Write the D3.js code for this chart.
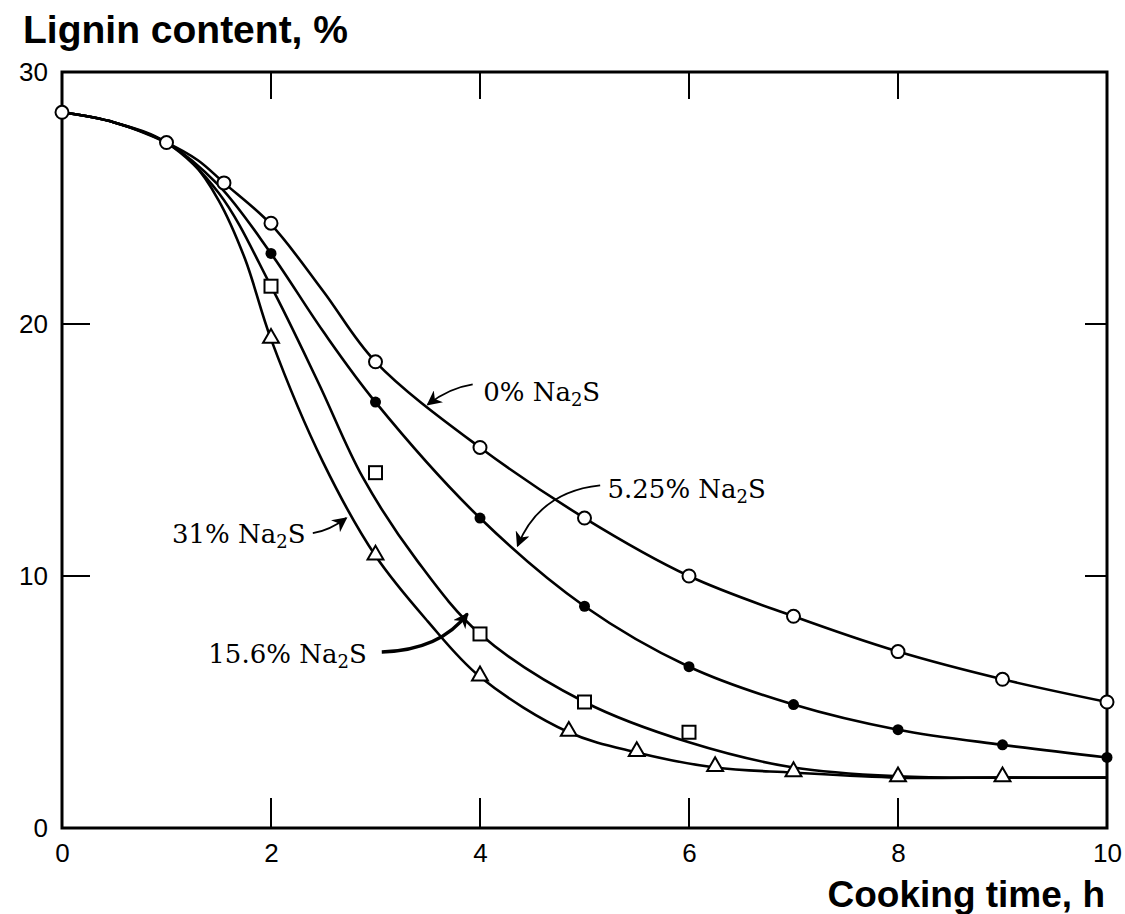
<!DOCTYPE html>
<html>
<head>
<meta charset="utf-8">
<script src="https://cdn.jsdelivr.net/npm/d3@7"></script>
<style>
  body { margin: 0; background: #fff; }
  svg { display: block; }
</style>
</head>
<body>
<script>
// measured points (markers)
var hours0 = [0, 1, 1.55, 2, 3, 4, 5, 6, 7, 8, 9, 10];
var lignin0 = [28.4, 27.2, 25.6, 24.0, 18.5, 15.1, 12.3, 10.0, 8.4, 7.0, 5.9, 5.0];
var hours525 = [2, 3, 4, 5, 6, 7, 8, 9, 10];
var lignin525 = [22.8, 16.9, 12.3, 8.8, 6.4, 4.9, 3.9, 3.3, 2.8];
var hours156 = [2, 3, 4, 5, 6];
var lignin156 = [21.5, 14.1, 7.7, 5.0, 3.8];
var hours31 = [2, 3, 4, 4.85, 5.5, 6.25, 7, 8, 9];
var lignin31 = [19.4, 10.8, 6.0, 3.8, 3.0, 2.4, 2.2, 2.0, 2.0];

// fitted curves as drawn in the figure
var curveT0 = [0, 0.5, 1, 1.3, 1.55, 2, 2.5, 3, 4, 5, 6, 7, 8, 9, 10];
var curveV0 = [28.4, 28.0, 27.2, 26.5, 25.6, 23.95, 21.3, 18.5, 15.1, 12.3, 10.0, 8.4, 7.0, 5.9, 5.0];
var curveT525 = [0, 0.5, 1, 1.5, 2, 2.5, 3, 4, 5, 6, 7, 8, 9, 10];
var curveV525 = [28.4, 28.0, 27.2, 25.5, 22.8, 19.7, 16.9, 12.3, 8.8, 6.4, 4.9, 3.9, 3.3, 2.8];
var curveT156 = [0, 0.5, 1, 1.5, 2, 2.45, 2.88, 3.4, 4, 5, 6, 7, 8, 9, 10];
var curveV156 = [28.4, 28.0, 27.2, 25.2, 21.5, 17.7, 13.9, 10.6, 7.7, 5.0, 3.4, 2.4, 2.05, 2.0, 2.0];
var curveT31 = [0, 0.5, 1, 1.25, 1.5, 1.75, 2, 2.5, 3, 3.5, 4, 4.85, 5.5, 6.25, 7, 8, 9, 10];
var curveV31 = [28.4, 28.0, 27.2, 26.4, 24.9, 22.6, 19.4, 14.5, 10.8, 8.2, 6.0, 3.8, 3.0, 2.4, 2.2, 2.0, 2.0, 2.0];

var xTicks = [0, 2, 4, 6, 8, 10];
var yTicks = [0, 10, 20, 30];
var innerTicksX = [2, 4, 6, 8];
var innerTicksY = [10, 20];

// labels: [t, value, anchor]; arrows: [from, ctrl, tip] in data units
var labelNames = ["0%", "5.25%", "31%", "15.6%"];
var labelPos = [[4.03, 16.95, "start"], [5.22, 13.1, "start"], [2.33, 11.3, "end"], [1.40, 6.55, "start"]];
var arrowPts = [
  [[3.93, 17.6], [3.70, 17.45], [3.50, 16.8]],
  [[5.15, 13.6], [4.57, 13.35], [4.36, 11.2]],
  [[2.40, 11.7], [2.56, 11.8], [2.72, 12.3]],
  [[3.06, 6.98], [3.62, 7.06], [3.88, 8.5]]
];
var arrowWidth = [1.8, 1.8, 1.8, 3.5];

var width = 1125, height = 914;
var svg = d3.select("body").append("svg")
    .attr("width", width)
    .attr("height", height);

svg.append("rect").attr("width", width).attr("height", height).attr("fill", "#fff");

var x = d3.scaleLinear().domain([0, 10]).range([62, 1107]);
var y = d3.scaleLinear().domain([0, 30]).range([828, 72]);

// frame
svg.append("rect")
    .attr("x", x(0)).attr("y", y(30))
    .attr("width", x(10) - x(0)).attr("height", y(0) - y(30))
    .attr("fill", "none").attr("stroke", "#000").attr("stroke-width", 3);

// inward ticks
innerTicksX.forEach(function(t){
    svg.append("line").attr("x1", x(t)).attr("x2", x(t))
        .attr("y1", y(0)).attr("y2", y(0) - 30)
        .attr("stroke", "#000").attr("stroke-width", 2);
    svg.append("line").attr("x1", x(t)).attr("x2", x(t))
        .attr("y1", y(30)).attr("y2", y(30) + 27)
        .attr("stroke", "#000").attr("stroke-width", 2);
});
innerTicksY.forEach(function(v){
    svg.append("line").attr("x1", x(0)).attr("x2", x(0) + 28)
        .attr("y1", y(v)).attr("y2", y(v))
        .attr("stroke", "#000").attr("stroke-width", 2);
    svg.append("line").attr("x1", x(10)).attr("x2", x(10) - 22)
        .attr("y1", y(v)).attr("y2", y(v))
        .attr("stroke", "#000").attr("stroke-width", 2);
});

// tick labels through axes
var xAxis = svg.append("g")
    .attr("transform", "translate(0," + y(0) + ")")
    .call(d3.axisBottom(x).tickValues(xTicks).tickSize(0).tickPadding(16).tickFormat(d3.format("d")));
var yAxis = svg.append("g")
    .attr("transform", "translate(" + x(0) + ",0)")
    .call(d3.axisLeft(y).tickValues(yTicks).tickSize(0).tickPadding(14).tickFormat(d3.format("d")));
[xAxis, yAxis].forEach(function(g){
    g.select(".domain").remove();
    g.selectAll("text")
        .attr("font-family", "Liberation Sans, Arial, sans-serif")
        .attr("font-size", 26)
        .attr("fill", "#000");
});

// axis titles
svg.append("text")
    .attr("x", 23).attr("y", 43)
    .attr("font-family", "Liberation Sans, Arial, sans-serif")
    .attr("font-weight", "bold")
    .attr("font-size", 39)
    .text("Lignin content, %");
svg.append("text")
    .attr("x", 1105).attr("y", 907)
    .attr("text-anchor", "end")
    .attr("font-family", "Liberation Sans, Arial, sans-serif")
    .attr("font-weight", "bold")
    .attr("font-size", 37)
    .text("Cooking time, h");

// curves
var line = d3.line()
    .x(function(d){ return x(d[0]); })
    .y(function(d){ return y(d[1]); })
    .curve(d3.curveCatmullRom.alpha(0.5));

[[curveT0, curveV0], [curveT525, curveV525], [curveT156, curveV156], [curveT31, curveV31]].forEach(function(c){
    svg.append("path")
        .datum(d3.zip(c[0], c[1]))
        .attr("d", line)
        .attr("fill", "none")
        .attr("stroke", "#000")
        .attr("stroke-width", 2.6);
});

// markers
svg.selectAll(".m0").data(d3.zip(hours0, lignin0)).enter().append("circle")
    .attr("cx", function(d){ return x(d[0]); })
    .attr("cy", function(d){ return y(d[1]); })
    .attr("r", 6.5)
    .attr("fill", "#fff").attr("stroke", "#000").attr("stroke-width", 2);

svg.selectAll(".m525").data(d3.zip(hours525, lignin525)).enter().append("circle")
    .attr("cx", function(d){ return x(d[0]); })
    .attr("cy", function(d){ return y(d[1]); })
    .attr("r", 5.5)
    .attr("fill", "#000");

svg.selectAll(".m156").data(d3.zip(hours156, lignin156)).enter().append("rect")
    .attr("x", function(d){ return x(d[0]) - 6.5; })
    .attr("y", function(d){ return y(d[1]) - 6.5; })
    .attr("width", 13).attr("height", 13)
    .attr("fill", "#fff").attr("stroke", "#000").attr("stroke-width", 2);

var tri = d3.symbol().type(d3.symbolTriangle).size(110);
svg.selectAll(".m31").data(d3.zip(hours31, lignin31)).enter().append("path")
    .attr("d", tri)
    .attr("transform", function(d){ return "translate(" + x(d[0]) + "," + (y(d[1]) - 1) + ")"; })
    .attr("fill", "#fff").attr("stroke", "#000").attr("stroke-width", 2);

// annotations
svg.append("defs").append("marker")
    .attr("id", "head")
    .attr("viewBox", "0 0 10 10")
    .attr("refX", 9).attr("refY", 5)
    .attr("markerWidth", 15).attr("markerHeight", 15)
    .attr("markerUnits", "userSpaceOnUse")
    .attr("orient", "auto")
    .append("path")
    .attr("d", "M0,0 L10,5 L0,10 L3,5 Z")
    .attr("fill", "#000");

labelNames.forEach(function(name, i){
    var p = labelPos[i];
    var t = svg.append("text")
        .attr("x", x(p[0])).attr("y", y(p[1]))
        .attr("text-anchor", p[2])
        .attr("font-family", "DejaVu Serif, serif")
        .attr("font-size", 26)
        .attr("fill", "#000");
    t.append("tspan").text(name + " Na");
    t.append("tspan").attr("font-size", 18).attr("dy", 5).text("2");
    t.append("tspan").attr("dy", -5).text("S");

    var a = arrowPts[i];
    var path = d3.path();
    path.moveTo(x(a[0][0]), y(a[0][1]));
    path.quadraticCurveTo(x(a[1][0]), y(a[1][1]), x(a[2][0]), y(a[2][1]));
    svg.append("path")
        .attr("d", path.toString())
        .attr("fill", "none")
        .attr("stroke", "#000")
        .attr("stroke-width", arrowWidth[i])
        .attr("marker-end", "url(#head)");
});
</script>
</body>
</html>
